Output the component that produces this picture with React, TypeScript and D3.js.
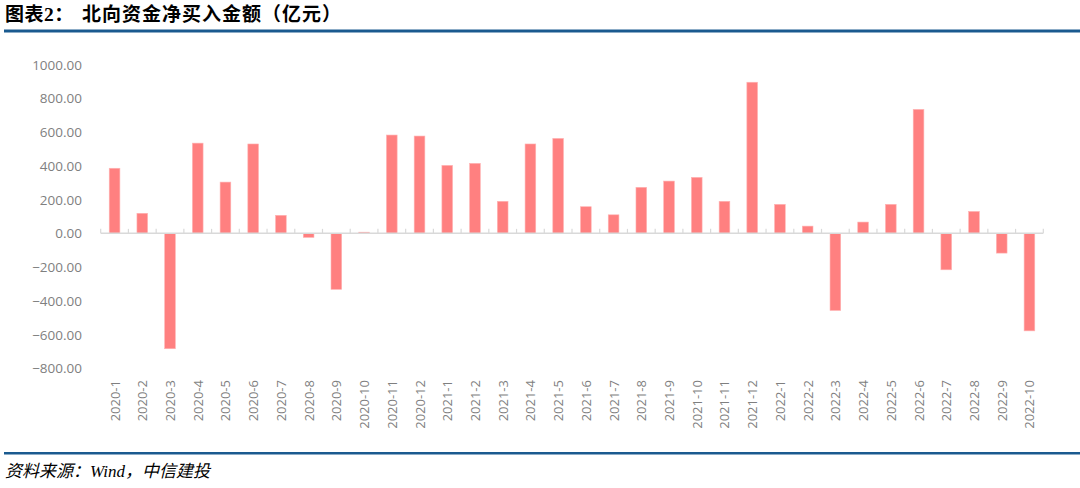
import React from "react";
import * as d3 from "d3";

const categories: string[] = [
  "2020-1", "2020-2", "2020-3", "2020-4", "2020-5", "2020-6", "2020-7", "2020-8", "2020-9", "2020-10", "2020-11", "2020-12",
  "2021-1", "2021-2", "2021-3", "2021-4", "2021-5", "2021-6", "2021-7", "2021-8", "2021-9", "2021-10", "2021-11", "2021-12",
  "2022-1", "2022-2", "2022-3", "2022-4", "2022-5", "2022-6", "2022-7", "2022-8", "2022-9", "2022-10",
];

const netBuy: number[] = [
  386, 119, -684, 535, 304, 530, 107, -24, -332, 7, 583, 577,
  403, 415, 190, 530, 563, 158, 110, 273, 310, 332, 190, 896,
  172, 43, -457, 67, 172, 735, -216, 130, -117, -578,
];

const yTicks: number[] = [1000, 800, 600, 400, 200, 0, -200, -400, -600, -800];

const titleLead = "图表";
const titleNum = "2";
const titleColon = "：";
const titleMain = "北向资金净买入金额（亿元）";
const sourceLead = "资料来源：";
const sourceWind = "Wind";
const sourceTail = "，中信建投";

export default function App() {
  const W = 1080;
  const H = 488;
  const x0 = 100.7;
  const x1 = 1043.3;

  const outer = d3.scaleBand<string>().domain(categories).range([x0, x1]).padding(0);
  const bars = d3
    .scaleBand<string>()
    .domain(categories)
    .range([x0, x1])
    .paddingInner(0.615)
    .paddingOuter(0.3075);
  const y = d3.scaleLinear().domain([-800, 1000]).range([368.3, 64.7]);
  const fmt = d3.format(".2f");
  const zeroY = y(0);

  const boundaries = [...categories.map((c) => outer(c) as number), x1];

  const axisFont = "'Open Sans', 'Noto Sans', sans-serif";
  const labelColor = "#7f7f7f";

  return (
    <svg
      width={W}
      height={H}
      style={{ position: "absolute", left: 0, top: 0, background: "#fff" }}
      xmlns="http://www.w3.org/2000/svg"
    >
      <rect x={0} y={0} width={W} height={H} fill="#ffffff" />
      {/* Title */}
      <text x={5} y={20.5} fontSize={19} fontWeight="bold" fill="#000" fontFamily="'Noto Sans CJK SC', sans-serif" letterSpacing={0.5}>
        {titleLead}
        <tspan fontFamily="'Liberation Serif', serif" fontSize={19.5}>{titleNum}</tspan>
        {titleColon}
      </text>
      <text x={82} y={20.5} fontSize={19} fontWeight="bold" fill="#000" fontFamily="'Noto Sans CJK SC', sans-serif" letterSpacing={1}>
        {titleMain}
      </text>
      <rect x={4} y={29.5} width={W - 4} height={3} fill="#1a5a8f" />

      {/* Y axis labels */}
      {yTicks.map((t) => (
        <text
          key={t}
          x={82}
          y={y(t)}
          textAnchor="end"
          dominantBaseline="central"
          fontSize={13.5}
          fill={labelColor}
          fontFamily={axisFont}
        >
          {fmt(t)}
        </text>
      ))}

      {/* Bars */}
      {categories.map((c, i) => {
        const v = netBuy[i];
        const top = Math.min(y(v), zeroY);
        const h = Math.abs(y(v) - zeroY);
        return (
          <rect
            key={c}
            x={bars(c) as number}
            y={top}
            width={bars.bandwidth()}
            height={h}
            fill="#ff8080"
            stroke="#ffb3b3"
            strokeWidth={0.6}
          />
        );
      })}

      {/* X axis line and ticks */}
      <line x1={x0} x2={x1} y1={zeroY} y2={zeroY} stroke="#d9d9d9" strokeWidth={1.5} />
      {boundaries.map((bx, i) => (
        <line key={i} x1={bx} x2={bx} y1={zeroY} y2={zeroY - 4.5} stroke="#d9d9d9" strokeWidth={1.2} />
      ))}

      {/* X labels */}
      {categories.map((c) => {
        const cx = (outer(c) as number) + outer.bandwidth() / 2;
        return (
          <text
            key={c}
            transform={`translate(${cx},380) rotate(-90)`}
            textAnchor="end"
            dominantBaseline="central"
            fontSize={13}
            fill={labelColor}
            fontFamily={axisFont}
          >
            {c}
          </text>
        );
      })}

      {/* Footer */}
      <rect x={4} y={452} width={W - 4} height={2.5} fill="#1a5a8f" />
      <text x={5} y={477} fontSize={17} fontStyle="italic" fill="#000" fontFamily="'Liberation Serif', 'Noto Sans CJK SC', serif">
        {sourceLead}
        <tspan fontFamily="'Liberation Serif', serif">{sourceWind}</tspan>
        {sourceTail}
      </text>
    </svg>
  );
}
